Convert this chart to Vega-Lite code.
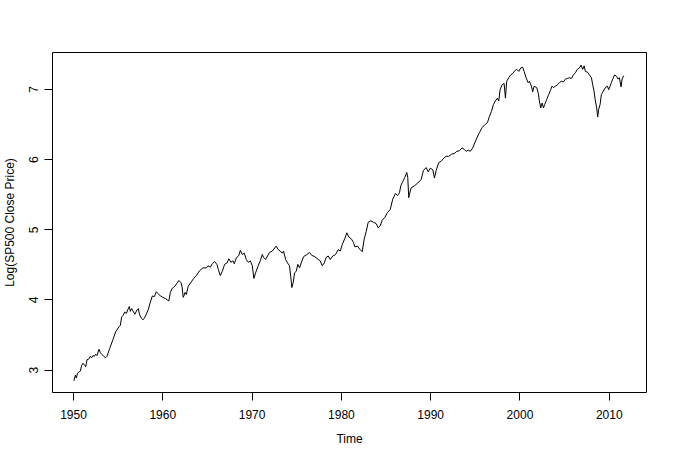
{
  "$schema": "https://vega.github.io/schema/vega-lite/v6.json",
  "width": 594,
  "height": 340,
  "autosize": {"type": "none"},
  "padding": {"left": 52, "top": 52, "right": 27, "bottom": 67},
  "background": "white",
  "config": {
    "view": {"stroke": "black", "strokeWidth": 1},
    "font": "Liberation Sans Narrow, Arial Narrow, Liberation Sans, Arial, sans-serif"
  },
  "data": {"values": [
    {"t":1950.10,"v":2.84},{"t":1950.27,"v":2.92},{"t":1950.38,"v":2.88},{"t":1950.49,"v":2.94},{"t":1950.60,"v":2.96},{"t":1950.83,"v":2.98},{"t":1950.97,"v":3.06},
    {"t":1951.12,"v":3.09},{"t":1951.31,"v":3.06},{"t":1951.42,"v":3.04},{"t":1951.57,"v":3.14},{"t":1951.76,"v":3.15},{"t":1951.95,"v":3.19},
    {"t":1952.09,"v":3.17},{"t":1952.24,"v":3.20},{"t":1952.39,"v":3.19},{"t":1952.54,"v":3.22},{"t":1952.69,"v":3.20},{"t":1952.91,"v":3.29},
    {"t":1953.07,"v":3.24},{"t":1953.21,"v":3.22},{"t":1953.44,"v":3.19},{"t":1953.66,"v":3.17},{"t":1953.81,"v":3.19},
    {"t":1954.11,"v":3.30},{"t":1954.48,"v":3.43},{"t":1954.78,"v":3.54},
    {"t":1955.15,"v":3.61},{"t":1955.30,"v":3.63},{"t":1955.45,"v":3.75},{"t":1955.60,"v":3.77},{"t":1955.79,"v":3.82},{"t":1955.98,"v":3.80},
    {"t":1956.16,"v":3.86},{"t":1956.31,"v":3.90},{"t":1956.42,"v":3.83},{"t":1956.57,"v":3.87},{"t":1956.79,"v":3.82},{"t":1956.94,"v":3.79},
    {"t":1957.16,"v":3.85},{"t":1957.32,"v":3.87},{"t":1957.46,"v":3.78},{"t":1957.69,"v":3.73},{"t":1957.83,"v":3.71},{"t":1957.99,"v":3.73},
    {"t":1958.21,"v":3.79},{"t":1958.44,"v":3.86},{"t":1958.66,"v":3.96},{"t":1958.89,"v":4.05},
    {"t":1959.11,"v":4.04},{"t":1959.33,"v":4.11},{"t":1959.56,"v":4.08},{"t":1959.78,"v":4.05},
    {"t":1960.07,"v":4.03},{"t":1960.38,"v":4.01},{"t":1960.60,"v":3.99},{"t":1960.74,"v":3.98},{"t":1960.90,"v":4.10},
    {"t":1961.12,"v":4.16},{"t":1961.42,"v":4.19},{"t":1961.64,"v":4.23},{"t":1961.86,"v":4.27},
    {"t":1962.09,"v":4.24},{"t":1962.22,"v":4.18},{"t":1962.34,"v":4.03},{"t":1962.42,"v":4.05},{"t":1962.54,"v":4.10},{"t":1962.69,"v":4.07},{"t":1962.91,"v":4.19},
    {"t":1963.25,"v":4.25},{"t":1963.51,"v":4.30},{"t":1963.81,"v":4.34},
    {"t":1964.18,"v":4.41},{"t":1964.55,"v":4.45},{"t":1964.93,"v":4.45},
    {"t":1965.11,"v":4.48},{"t":1965.38,"v":4.46},{"t":1965.60,"v":4.51},{"t":1965.86,"v":4.54},
    {"t":1966.12,"v":4.50},{"t":1966.27,"v":4.43},{"t":1966.50,"v":4.34},{"t":1966.72,"v":4.40},{"t":1966.98,"v":4.50},
    {"t":1967.24,"v":4.52},{"t":1967.46,"v":4.58},{"t":1967.68,"v":4.53},{"t":1967.91,"v":4.55},
    {"t":1968.06,"v":4.51},{"t":1968.29,"v":4.59},{"t":1968.58,"v":4.63},{"t":1968.74,"v":4.70},{"t":1968.96,"v":4.64},
    {"t":1969.18,"v":4.66},{"t":1969.41,"v":4.57},{"t":1969.63,"v":4.53},{"t":1969.86,"v":4.55},
    {"t":1970.08,"v":4.48},{"t":1970.26,"v":4.30},{"t":1970.45,"v":4.38},{"t":1970.71,"v":4.47},{"t":1970.97,"v":4.55},
    {"t":1971.20,"v":4.64},{"t":1971.34,"v":4.60},{"t":1971.57,"v":4.57},{"t":1971.79,"v":4.62},
    {"t":1972.01,"v":4.67},{"t":1972.32,"v":4.69},{"t":1972.76,"v":4.76},{"t":1972.99,"v":4.71},
    {"t":1973.21,"v":4.69},{"t":1973.44,"v":4.66},{"t":1973.58,"v":4.69},{"t":1973.81,"v":4.57},
    {"t":1974.03,"v":4.52},{"t":1974.25,"v":4.48},{"t":1974.40,"v":4.31},{"t":1974.51,"v":4.17},{"t":1974.66,"v":4.24},{"t":1974.81,"v":4.38},
    {"t":1975.00,"v":4.40},{"t":1975.18,"v":4.50},{"t":1975.37,"v":4.45},{"t":1975.56,"v":4.52},{"t":1975.82,"v":4.61},
    {"t":1976.19,"v":4.64},{"t":1976.49,"v":4.67},{"t":1976.72,"v":4.63},
    {"t":1977.08,"v":4.61},{"t":1977.46,"v":4.57},{"t":1977.69,"v":4.55},{"t":1977.91,"v":4.48},
    {"t":1978.14,"v":4.52},{"t":1978.36,"v":4.60},{"t":1978.58,"v":4.62},{"t":1978.81,"v":4.57},
    {"t":1979.10,"v":4.62},{"t":1979.40,"v":4.64},{"t":1979.70,"v":4.71},{"t":1979.93,"v":4.69},
    {"t":1980.15,"v":4.78},{"t":1980.44,"v":4.87},{"t":1980.67,"v":4.95},{"t":1980.89,"v":4.89},
    {"t":1981.19,"v":4.86},{"t":1981.42,"v":4.81},{"t":1981.56,"v":4.75},{"t":1981.86,"v":4.76},
    {"t":1982.16,"v":4.71},{"t":1982.39,"v":4.68},{"t":1982.61,"v":4.86},{"t":1982.84,"v":4.97},
    {"t":1983.06,"v":5.10},{"t":1983.35,"v":5.12},{"t":1983.65,"v":5.10},{"t":1983.96,"v":5.08},
    {"t":1984.18,"v":5.02},{"t":1984.41,"v":5.05},{"t":1984.63,"v":5.13},{"t":1984.92,"v":5.17},
    {"t":1985.22,"v":5.24},{"t":1985.52,"v":5.28},{"t":1985.81,"v":5.43},
    {"t":1986.12,"v":5.51},{"t":1986.34,"v":5.48},{"t":1986.56,"v":5.52},{"t":1986.71,"v":5.62},{"t":1986.93,"v":5.68},
    {"t":1987.16,"v":5.74},{"t":1987.38,"v":5.81},{"t":1987.49,"v":5.74},{"t":1987.60,"v":5.45},{"t":1987.68,"v":5.50},{"t":1987.87,"v":5.59},
    {"t":1988.24,"v":5.62},{"t":1988.61,"v":5.66},{"t":1988.99,"v":5.71},
    {"t":1989.25,"v":5.84},{"t":1989.55,"v":5.88},{"t":1989.78,"v":5.82},
    {"t":1990.00,"v":5.87},{"t":1990.29,"v":5.85},{"t":1990.48,"v":5.73},{"t":1990.67,"v":5.84},{"t":1990.96,"v":5.95},
    {"t":1991.23,"v":5.97},{"t":1991.57,"v":6.02},{"t":1991.79,"v":6.04},
    {"t":1992.08,"v":6.04},{"t":1992.38,"v":6.07},{"t":1992.69,"v":6.08},{"t":1992.98,"v":6.11},
    {"t":1993.28,"v":6.12},{"t":1993.58,"v":6.16},{"t":1993.81,"v":6.14},
    {"t":1994.03,"v":6.11},{"t":1994.25,"v":6.13},{"t":1994.48,"v":6.11},{"t":1994.77,"v":6.16},{"t":1994.99,"v":6.23},
    {"t":1995.22,"v":6.30},{"t":1995.52,"v":6.38},{"t":1995.82,"v":6.45},
    {"t":1996.11,"v":6.49},{"t":1996.41,"v":6.52},{"t":1996.64,"v":6.61},{"t":1996.86,"v":6.68},
    {"t":1997.09,"v":6.78},{"t":1997.31,"v":6.83},{"t":1997.53,"v":6.87},{"t":1997.68,"v":6.83},{"t":1997.83,"v":6.99},
    {"t":1998.06,"v":7.06},{"t":1998.28,"v":7.08},{"t":1998.43,"v":6.87},{"t":1998.57,"v":7.11},{"t":1998.80,"v":7.16},
    {"t":1999.02,"v":7.20},{"t":1999.24,"v":7.22},{"t":1999.47,"v":7.26},{"t":1999.69,"v":7.28},{"t":1999.92,"v":7.25},
    {"t":2000.14,"v":7.30},{"t":2000.36,"v":7.31},{"t":2000.52,"v":7.25},{"t":2000.74,"v":7.16},{"t":2000.97,"v":7.09},
    {"t":2001.11,"v":7.11},{"t":2001.34,"v":7.04},{"t":2001.48,"v":6.96},{"t":2001.64,"v":7.04},{"t":2001.93,"v":7.02},
    {"t":2002.09,"v":6.95},{"t":2002.23,"v":6.83},{"t":2002.38,"v":6.73},{"t":2002.54,"v":6.80},{"t":2002.69,"v":6.73},{"t":2002.83,"v":6.78},
    {"t":2003.05,"v":6.85},{"t":2003.27,"v":6.92},{"t":2003.50,"v":6.99},{"t":2003.65,"v":7.04},{"t":2003.80,"v":7.02},
    {"t":2004.02,"v":7.04},{"t":2004.25,"v":7.06},{"t":2004.47,"v":7.09},{"t":2004.69,"v":7.11},{"t":2004.92,"v":7.10},
    {"t":2005.14,"v":7.14},{"t":2005.36,"v":7.15},{"t":2005.59,"v":7.16},{"t":2005.81,"v":7.15},
    {"t":2006.04,"v":7.20},{"t":2006.26,"v":7.23},{"t":2006.48,"v":7.28},{"t":2006.71,"v":7.30},{"t":2006.90,"v":7.34},
    {"t":2007.08,"v":7.28},{"t":2007.24,"v":7.33},{"t":2007.38,"v":7.25},{"t":2007.61,"v":7.24},{"t":2007.83,"v":7.20},
    {"t":2008.06,"v":7.16},{"t":2008.20,"v":7.06},{"t":2008.35,"v":6.97},{"t":2008.50,"v":6.83},{"t":2008.65,"v":6.73},{"t":2008.76,"v":6.60},{"t":2008.87,"v":6.71},
    {"t":2009.03,"v":6.78},{"t":2009.17,"v":6.92},{"t":2009.40,"v":6.97},{"t":2009.62,"v":7.02},{"t":2009.85,"v":7.04},{"t":2009.99,"v":6.99},
    {"t":2010.15,"v":7.04},{"t":2010.29,"v":7.09},{"t":2010.44,"v":7.14},{"t":2010.66,"v":7.20},{"t":2010.88,"v":7.18},
    {"t":2011.04,"v":7.14},{"t":2011.19,"v":7.16},{"t":2011.38,"v":7.03},{"t":2011.49,"v":7.14},{"t":2011.67,"v":7.19}
  ]},
  "mark": {"type": "line", "color": "black", "strokeWidth": 1},
  "encoding": {
    "x": {
      "field": "t", "type": "quantitative",
      "scale": {"domain": [1947.65, 2014.17], "nice": false, "zero": false},
      "axis": {
        "values": [1950, 1960, 1970, 1980, 1990, 2000, 2010], "format": "d",
        "title": "Time", "grid": false, "domain": false,
        "tickColor": "black", "tickSize": 8, "tickWidth": 1,
        "labelColor": "black", "labelFontSize": 12, "labelBaseline": "middle", "labelPadding": 14,
        "titleColor": "black", "titleFontSize": 12, "titleFontWeight": "normal", "titlePadding": 13
      }
    },
    "y": {
      "field": "v", "type": "quantitative",
      "scale": {"domain": [2.681, 7.527], "nice": false, "zero": false},
      "axis": {
        "values": [3, 4, 5, 6, 7], "format": "d",
        "title": "Log(SP500 Close Price)", "grid": false, "domain": false,
        "tickColor": "black", "tickSize": 8, "tickWidth": 1,
        "labelColor": "black", "labelFontSize": 12, "labelAngle": -90, "labelAlign": "center", "labelBaseline": "middle", "labelPadding": 11,
        "titleColor": "black", "titleFontSize": 12, "titleFontWeight": "normal", "titlePadding": 11
      }
    }
  }
}
